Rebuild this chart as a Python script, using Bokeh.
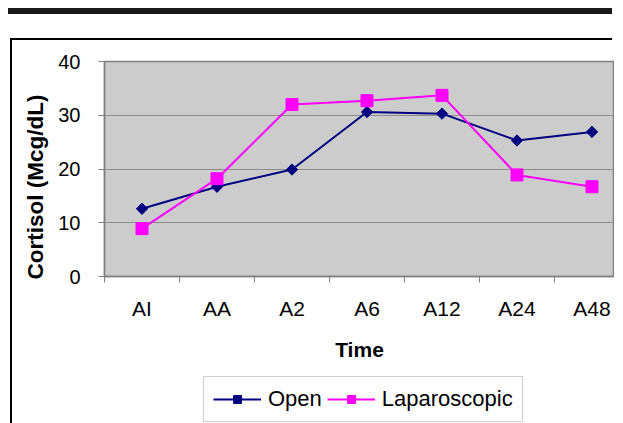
import numpy as np
from bokeh.plotting import figure
from bokeh.models import Range1d, FixedTicker, Legend, LegendItem, Title, Div, Spacer
from bokeh.layouts import column, row
from bokeh.embed import file_html
from bokeh.resources import INLINE

# ---- data ----
times = ["AI", "AA", "A2", "A6", "A12", "A24", "A48"]
open_vals = [12.6, 16.7, 19.9, 30.6, 30.3, 25.3, 26.9]
lap_vals = [8.9, 18.2, 32.0, 32.7, 33.7, 18.9, 16.7]
y_ticks = [0, 10, 20, 30, 40]

FONT = "Liberation Sans"
NAVY = "#000080"
MAGENTA = "#ff00ff"
xs = [i + 0.5 for i in range(len(times))]

# ---------------- main chart ----------------
p = figure(frame_width=510, frame_height=215,
           x_range=Range1d(0, 6.8), y_range=Range1d(0, 40),
           output_backend="svg", toolbar_location=None,
           min_border_left=90, min_border_right=0, min_border_top=21, min_border_bottom=100)
p.background_fill_color = "#cccccc"
p.border_fill_color = "white"
p.outline_line_color = "#808080"
p.outline_line_width = 1.5

p.xgrid.visible = False
p.ygrid.ticker = FixedTicker(ticks=y_ticks)
p.ygrid.grid_line_color = "#8c8c8c"
p.ygrid.grid_line_width = 1

xa = p.xaxis[0]
xa.ticker = FixedTicker(ticks=xs, minor_ticks=list(range(len(times) + 1)))
xa.major_label_overrides = {x: t for x, t in zip(xs, times)}
xa.major_tick_line_color = None
xa.major_tick_out = 6
xa.major_tick_in = 0
xa.minor_tick_out = 6
xa.minor_tick_in = 0
xa.minor_tick_line_color = "#808080"
xa.axis_line_color = "#808080"
xa.axis_line_width = 1.5
xa.major_label_text_font = FONT
xa.major_label_text_font_size = "21px"
xa.major_label_text_color = "black"
xa.major_label_standoff = 14
xa.axis_label = "Time"
xa.axis_label_text_font = FONT
xa.axis_label_text_font_size = "21px"
xa.axis_label_text_font_style = "bold"
xa.axis_label_text_color = "black"
xa.axis_label_standoff = 15

ya = p.yaxis[0]
ya.ticker = FixedTicker(ticks=y_ticks, minor_ticks=[])
ya.major_tick_out = 6
ya.major_tick_in = 0
ya.major_tick_line_color = "#808080"
ya.axis_line_color = "#808080"
ya.axis_line_width = 1.5
ya.major_label_text_font = FONT
ya.major_label_text_font_size = "20px"
ya.major_label_text_color = "black"
ya.major_label_standoff = 18

p.line(xs, open_vals, line_color=NAVY, line_width=2)
p.scatter(xs, open_vals, marker="square", size=8, angle=np.pi / 4,
          fill_color=NAVY, line_color=NAVY)
p.line(xs, lap_vals, line_color=MAGENTA, line_width=2)
p.scatter(xs, lap_vals, marker="square", size=12, fill_color=MAGENTA, line_color=MAGENTA)

ytitle = Title(text="Cortisol (Mcg/dL)", align="left", offset=-3, standoff=16,
               text_font=FONT, text_font_size="22.5px", text_font_style="bold",
               text_color="black")
p.add_layout(ytitle, "left")

# ---------------- legend strip (frame aligned with the chart frame) ----------------
pl = figure(frame_width=510, frame_height=47, x_range=Range1d(-10, -9), y_range=Range1d(-10, -9),
            x_axis_type=None, y_axis_type=None, output_backend="svg", toolbar_location=None,
            min_border_left=90, min_border_right=0, min_border_top=0, min_border_bottom=0)
pl.outline_line_color = None
pl.background_fill_color = "white"
pl.border_fill_color = "white"
pl.grid.visible = False
lo = pl.line(xs, open_vals, line_color=NAVY, line_width=2)
so = pl.scatter(xs, open_vals, marker="square", size=8, angle=np.pi / 4,
                fill_color=NAVY, line_color=NAVY)
ll = pl.line(xs, lap_vals, line_color=MAGENTA, line_width=2)
sl = pl.scatter(xs, lap_vals, marker="square", size=12, fill_color=MAGENTA, line_color=MAGENTA)

legend = Legend(items=[LegendItem(label="Open", renderers=[lo, so]),
                       LegendItem(label="Laparoscopic", renderers=[ll, sl])],
                orientation="horizontal", location=(161, 1),
                label_text_font=FONT, label_text_font_size="22px", label_text_color="black",
                glyph_width=48, glyph_height=20, label_standoff=7, spacing=5,
                padding=9, margin=0, border_line_color="#a0a0a0", border_line_width=1,
                background_fill_color="white")
pl.add_layout(legend)

# ---------------- page frame ----------------
bar = Div(text="", width=604, height=6, margin=0, styles={"background-color": "#1a1a1a"})
vline = Div(text="", width=2, height=385, margin=0, styles={"background-color": "#000000"})
hline = Div(text="", width=600, height=2, margin=0, styles={"background-color": "#000000"})
body = column(bar, Spacer(width=604, height=24),
              row(Spacer(width=2, height=385), vline, column(hline, p, pl)))
layout = row(Spacer(width=8, height=423), column(Spacer(width=604, height=8), body))

open("out.html", "w").write(file_html(layout, INLINE))
